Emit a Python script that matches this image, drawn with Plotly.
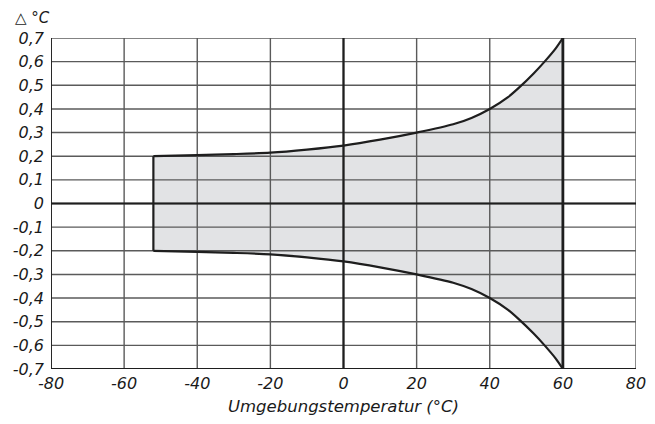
import plotly.graph_objects as go

# Data
x_upper = [-52, -40, -30, -20, -10, 0, 10, 20, 30, 35, 40, 45, 48, 52, 55, 58, 60]
y_upper = [0.20, 0.205, 0.209, 0.215, 0.228, 0.245, 0.27, 0.30, 0.335, 0.362, 0.40, 0.45, 0.49, 0.55, 0.60, 0.655, 0.70]
y_lower = [-v for v in y_upper]

x_ticks = [-80, -60, -40, -20, 0, 20, 40, 60, 80]
x_ticktext = ["-80", "-60", "-40", "-20", "0", "20", "40", "60", "80"]
y_ticks = [-0.7, -0.6, -0.5, -0.4, -0.3, -0.2, -0.1, 0, 0.1, 0.2, 0.3, 0.4, 0.5, 0.6, 0.7]
y_ticktext = ["-0,7", "-0,6", "-0,5", "-0,4", "-0,3", "-0,2", "-0,1", "0",
              "0,1", "0,2", "0,3", "0,4", "0,5", "0,6", "0,7"]

x_min, x_max = -80, 80
y_min, y_max = -0.7, 0.7

GRID = "#5a5a5a"
DARK = "#1e1e1e"
FONT = "DejaVu Sans"

fig = go.Figure()

# shaded band
fig.add_trace(go.Scatter(
    x=x_upper + x_upper[::-1], y=y_upper + y_lower[::-1],
    fill="toself", fillcolor="#e2e3e5", line=dict(width=0), mode="lines",
    hoverinfo="skip", showlegend=False))

# grid lines (drawn as a trace so they sit above the band)
gx, gy = [], []
for xv in x_ticks:
    gx += [xv, xv, None]
    gy += [y_min, y_max, None]
for yv in y_ticks:
    gx += [x_min, x_max, None]
    gy += [yv, yv, None]
fig.add_trace(go.Scatter(x=gx, y=gy, mode="lines", line=dict(color=GRID, width=1.4),
                         hoverinfo="skip", showlegend=False))

# left/bottom frame and zero lines
fig.add_trace(go.Scatter(x=[x_min, x_min, None, x_min, x_max], y=[y_max, y_min, None, y_min, y_min],
                         mode="lines", line=dict(color=DARK, width=1.8),
                         hoverinfo="skip", showlegend=False))
fig.add_trace(go.Scatter(x=[0, 0, None, x_min, x_max], y=[y_min, y_max, None, 0, 0],
                         mode="lines", line=dict(color=DARK, width=2.2),
                         hoverinfo="skip", showlegend=False))

# band outline
fig.add_trace(go.Scatter(x=x_upper, y=y_upper, mode="lines", line=dict(color=DARK, width=2.2, shape="spline", smoothing=0.8),
                         hoverinfo="skip", showlegend=False))
fig.add_trace(go.Scatter(x=x_upper, y=y_lower, mode="lines", line=dict(color=DARK, width=2.2, shape="spline", smoothing=0.8),
                         hoverinfo="skip", showlegend=False))
fig.add_trace(go.Scatter(x=[x_upper[0], x_upper[0]], y=[y_lower[0], y_upper[0]], mode="lines",
                         line=dict(color=DARK, width=2.2), hoverinfo="skip", showlegend=False))
fig.add_trace(go.Scatter(x=[x_upper[-1], x_upper[-1]], y=[y_min, y_max], mode="lines",
                         line=dict(color=DARK, width=2.8), hoverinfo="skip", showlegend=False))

fig.update_layout(
    width=639, height=408,
    margin=dict(l=43, r=11, t=30, b=47, autoexpand=False),
    paper_bgcolor="white", plot_bgcolor="white",
    font=dict(family=FONT, size=16, color="#1a1a1a"),
    xaxis=dict(range=[x_min, x_max], tickvals=x_ticks, ticktext=x_ticktext,
               showgrid=False, zeroline=False, showline=False, ticks="",
               automargin=False,
               tickfont=dict(family=FONT, size=16, style="italic"),
               ticklabelstandoff=3,
               title=dict(text="Umgebungstemperatur (°C)", standoff=13,
                          font=dict(family=FONT, size=16.5, style="italic"))),
    yaxis=dict(range=[y_min, y_max], tickvals=y_ticks, ticktext=y_ticktext,
               showgrid=False, zeroline=False, showline=False, ticks="",
               automargin=False,
               tickfont=dict(family=FONT, size=16, style="italic"),
               ticklabelstandoff=6),
    annotations=[dict(text="△ °C", xref="paper", yref="paper", x=0, y=1.0,
                      xanchor="left", yanchor="bottom", xshift=-37, yshift=10,
                      borderpad=0, showarrow=False,
                      font=dict(family=FONT, size=15, style="italic"))],
)

fig.write_html("out.html")
